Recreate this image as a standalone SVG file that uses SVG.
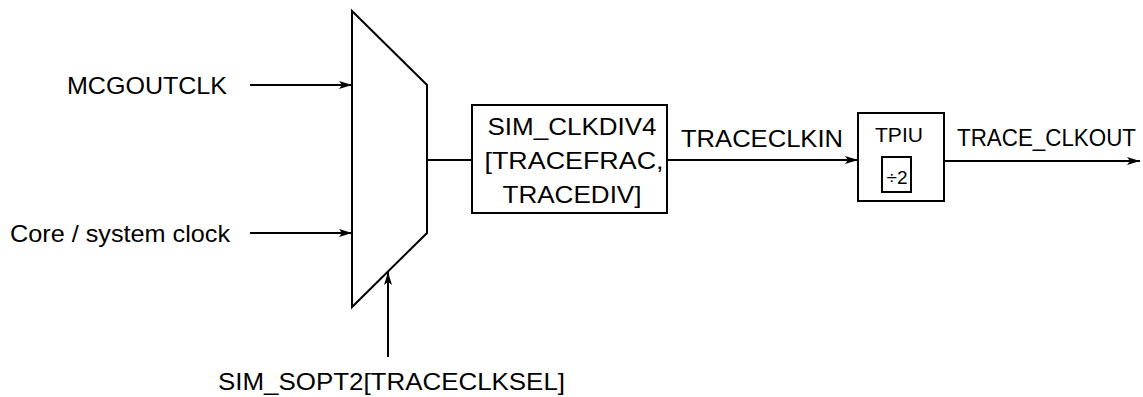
<svg xmlns="http://www.w3.org/2000/svg" width="1143" height="397" viewBox="0 0 1143 397">
<style>
.s{fill:#fff;stroke:#000;stroke-width:2}
.c{fill:none;stroke:#000;stroke-width:2}
text{font-family:"Liberation Sans",Arial,Helvetica,sans-serif;font-size:24.5px;fill:#000}
.m{text-anchor:middle}
</style>
<defs>
<marker id="ah" markerUnits="userSpaceOnUse" markerWidth="14" markerHeight="10" refX="13" refY="5" orient="auto">
<path d="M0,1 L13,5 L0,9 L3,5 z" fill="#000"/>
</marker>
</defs>
<g id="mux"><path class="s" d="M352,11 L427,85 L427,233 L352,307 Z"/></g>
<g id="clkdiv">
<rect class="s" x="472" y="105" width="195" height="108"/>
<text class="m" x="572" y="135" textLength="169" lengthAdjust="spacingAndGlyphs">SIM_CLKDIV4</text>
<text class="m" x="574" y="169" textLength="179" lengthAdjust="spacingAndGlyphs">[TRACEFRAC,</text>
<text class="m" x="572" y="203" textLength="139" lengthAdjust="spacingAndGlyphs">TRACEDIV]</text>
</g>
<g id="tpiu">
<rect class="s" x="858" y="113" width="86" height="88"/>
<text class="m" x="899" y="142" style="font-size:21px" textLength="48" lengthAdjust="spacingAndGlyphs">TPIU</text>
<rect class="s" x="882" y="157" width="29" height="35"/>
<text class="m" x="897" y="184" style="font-size:19px">÷2</text>
</g>
<g id="labels">
<text x="67" y="94" textLength="160" lengthAdjust="spacingAndGlyphs">MCGOUTCLK</text>
<text x="10" y="242" textLength="220" lengthAdjust="spacingAndGlyphs">Core / system clock</text>
<text x="218" y="390" textLength="347" lengthAdjust="spacingAndGlyphs">SIM_SOPT2[TRACECLKSEL]</text>
<text x="681" y="147" textLength="162" lengthAdjust="spacingAndGlyphs">TRACECLKIN</text>
<text x="957" y="146" textLength="179" lengthAdjust="spacingAndGlyphs">TRACE_CLKOUT</text>
</g>
<g id="connectors">
<line class="c" x1="250" y1="85" x2="352" y2="85" marker-end="url(#ah)"/>
<line class="c" x1="250" y1="233" x2="352" y2="233" marker-end="url(#ah)"/>
<line class="c" x1="388" y1="357" x2="388" y2="272" marker-end="url(#ah)"/>
<line class="c" x1="427" y1="160" x2="472" y2="160"/>
<line class="c" x1="667" y1="160" x2="858" y2="160" marker-end="url(#ah)"/>
<line class="c" x1="944" y1="161" x2="1140" y2="161" marker-end="url(#ah)"/>
</g>
</svg>
